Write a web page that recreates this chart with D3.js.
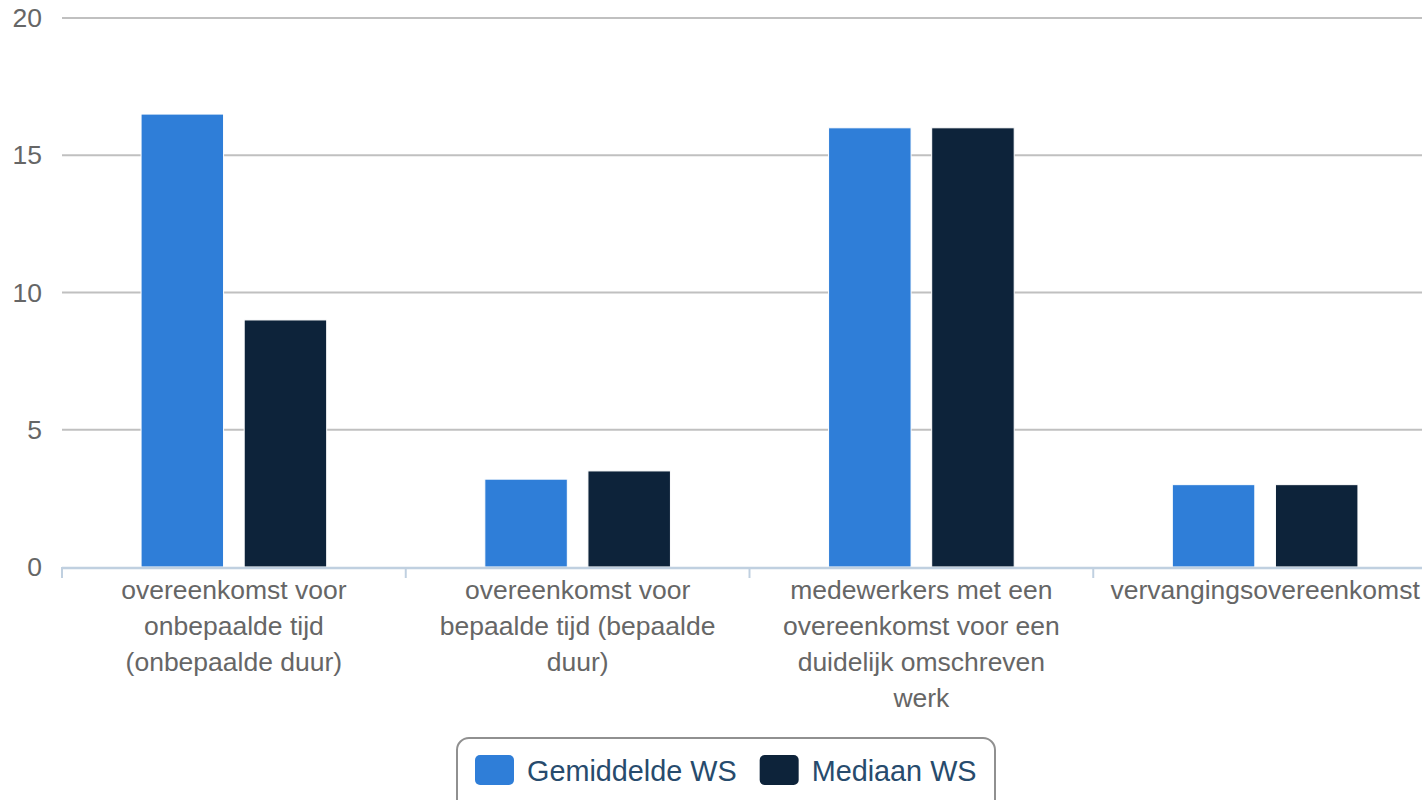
<!DOCTYPE html>
<html><head><meta charset="utf-8">
<script src="https://cdn.jsdelivr.net/npm/d3@7/dist/d3.min.js"></script>
<style>html,body{margin:0;padding:0;background:#fff;overflow:hidden}svg{display:block;font-family:"Liberation Sans",Arial,Helvetica,sans-serif}</style>
</head><body><svg id="c" width="1422" height="800"></svg>
<script>
const categories = ["overeenkomst voor onbepaalde tijd (onbepaalde duur)","overeenkomst voor bepaalde tijd (bepaalde duur)","medewerkers met een overeenkomst voor een duidelijk omschreven werk","vervangingsovereenkomst"];
const seriesNames = ["Gemiddelde WS","Mediaan WS"];
const gemiddelde = [16.5, 3.2, 16, 3];
const mediaan = [9, 3.5, 16, 3];
const yTicks = [0,5,10,15,20];
const colors = ["#2f7ed8","#0d233a"];

const svg = d3.select("#c");
const L=62, R=1437, T=18, B=567;
const y = d3.scaleLinear().domain([0,20]).range([B,T]);
const x0 = d3.scaleBand().domain(d3.range(categories.length)).range([L,R]).padding(0);
const bw = x0.bandwidth();
const x1 = d3.scaleBand().domain([0,1]).range([0.2*bw,0.8*bw]).paddingInner(0.2).paddingOuter(0.1);

// gridlines
svg.append("g").selectAll("line").data(yTicks.filter(d=>d>0)).join("line")
  .attr("x1",L).attr("x2",R).attr("y1",d=>y(d)).attr("y2",d=>y(d))
  .attr("stroke","#C0C0C0").attr("stroke-width",2);

// y labels
svg.append("g").selectAll("text").data(yTicks).join("text")
  .attr("x",42).attr("y",d=>y(d)+9).attr("text-anchor","end")
  .attr("font-size",26.5).attr("fill","#666").text(d=>d);

// bars
const data = [gemiddelde, mediaan];
data.forEach((vals,s)=>{
  svg.append("g").selectAll("rect").data(vals).join("rect")
    .attr("x",(d,i)=>x0(i)+x1(s)).attr("width",x1.bandwidth())
    .attr("y",d=>y(d)).attr("height",d=>B-y(d))
    .attr("fill",colors[s]).attr("stroke","#fff").attr("stroke-width",1);
});

// x axis line & ticks
svg.append("line").attr("x1",L).attr("x2",R).attr("y1",B+1).attr("y2",B+1).attr("stroke","#C0D0E0").attr("stroke-width",2.5);
svg.append("g").selectAll("line").data(d3.range(categories.length+1)).join("line")
  .attr("x1",i=>L+i*bw).attr("x2",i=>L+i*bw).attr("y1",B).attr("y2",B+11)
  .attr("stroke","#C0D0E0").attr("stroke-width",2);

// x labels with wrapping
const maxW = 295;
const xl = svg.append("g");
categories.forEach((c,i)=>{
  const t = xl.append("text").attr("text-anchor","middle").attr("font-size",26.5).attr("fill","#666");
  const cx = x0(i)+bw/2;
  const words = c.split(" ");
  let lines=[], cur=[];
  const meas = svg.append("text").attr("font-size",26.5).attr("visibility","hidden");
  words.forEach(w=>{
    const test = cur.concat([w]).join(" ");
    meas.text(test);
    if (cur.length && meas.node().getComputedTextLength()>maxW){ lines.push(cur.join(" ")); cur=[w]; }
    else cur.push(w);
  });
  lines.push(cur.join(" "));
  meas.remove();
  lines.forEach((ln,k)=>{
    t.append("tspan").attr("x",cx).attr("y",599+k*36).text(ln);
  });
});

// legend
const lg = svg.append("g");
lg.append("rect").attr("x",457).attr("y",738).attr("width",538).attr("height",80).attr("rx",12)
  .attr("fill","#fff").attr("stroke","#909090").attr("stroke-width",2);
let lx = 475;
seriesNames.forEach((n,s)=>{
  lg.append("rect").attr("x",lx).attr("y",755).attr("width",39).attr("height",30).attr("rx",5).attr("fill",colors[s]);
  const tx = lg.append("text").attr("x",lx+52).attr("y",781).attr("font-size",28.8).attr("fill","#274b6d").text(n);
  lx = lx+52+tx.node().getComputedTextLength()+23;
});
</script></body></html>
